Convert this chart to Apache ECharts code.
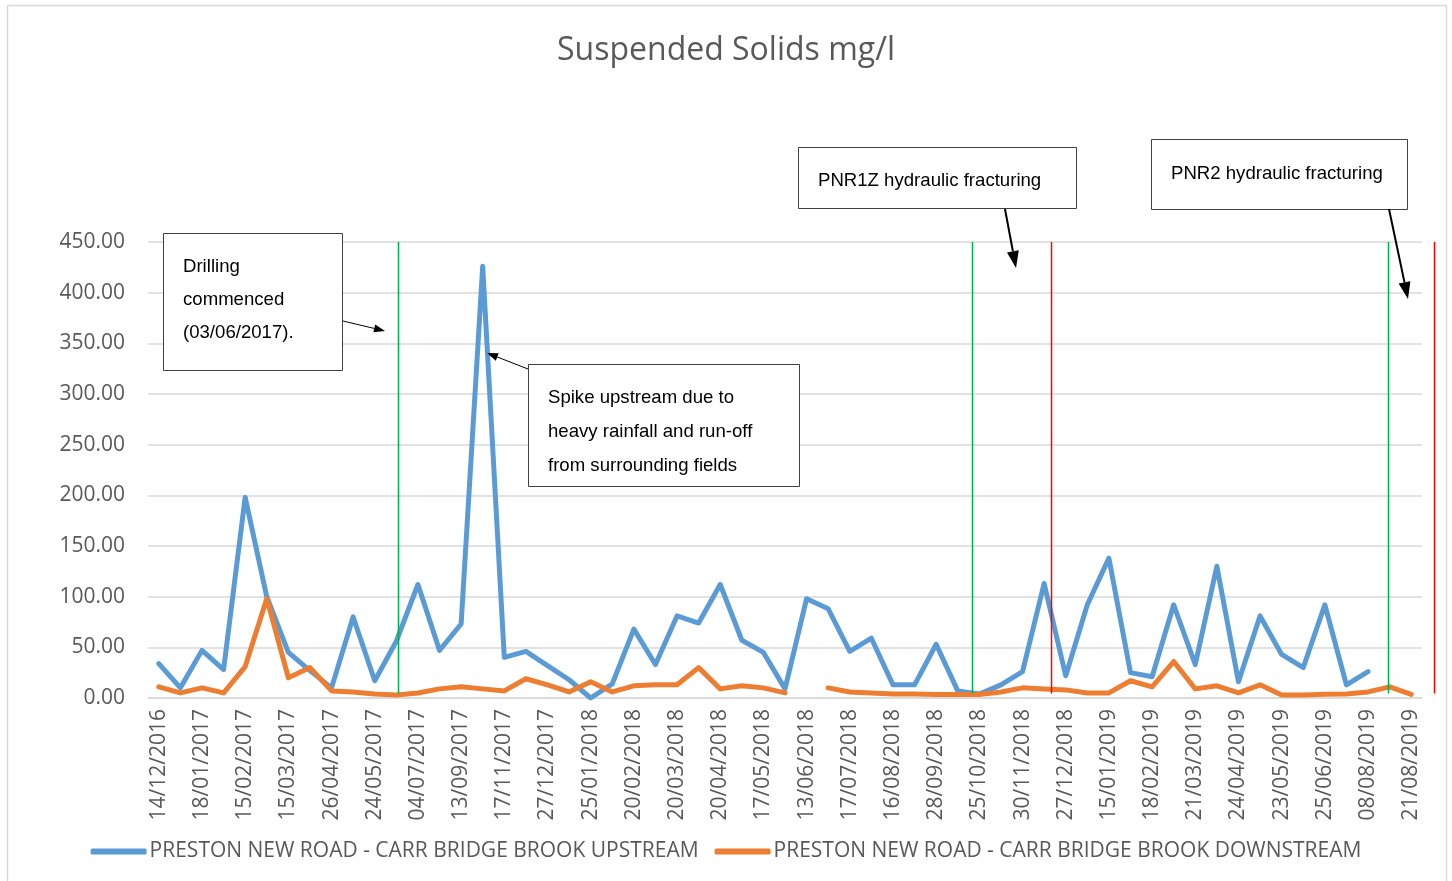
<!DOCTYPE html>
<html><head><meta charset="utf-8">
<script src="https://cdn.jsdelivr.net/npm/echarts@6/dist/echarts.min.js"></script>
<style>html,body{margin:0;padding:0;background:#fff}#c{width:1452px;height:881px}</style>
</head><body><div id="c"></div>
<script>
// Visible tick labels (every second category)
const tickLabels = ['14/12/2016','18/01/2017','15/02/2017','15/03/2017','26/04/2017','24/05/2017','04/07/2017','13/09/2017','17/11/2017','27/12/2017','25/01/2018','20/02/2018','20/03/2018','20/04/2018','17/05/2018','13/06/2018','17/07/2018','16/08/2018','28/09/2018','25/10/2018','30/11/2018','27/12/2018','15/01/2019','18/02/2019','21/03/2019','24/04/2019','23/05/2019','25/06/2019','08/08/2019','21/08/2019'];

const upstream = [34,10,47,28,198,100,45,27,10,80,17,56,112,47,73,426,40,46,32,18,0,14,68,33,81,74,112,57,45,9,98,88,46,59,13,13,53,7,4,13,26,113,22,92,138,25,21,92,33,130,16,81,43,30,92,13,26,null,null];

const downstream = [11,5,10,5,31,98,20,30,7,6,4,3,5,9,11,9,7,19,13,6,16,6,12,13,13,30,9,12,10,5,null,10,6,5,4,4,3.5,3.5,3.5,6,10,9,8,5,5,17,11,36,9,12,5,13,3,3,3.6,4,6,11,3.6];

const seriesNames = ['PRESTON NEW ROAD - CARR BRIDGE BROOK UPSTREAM','PRESTON NEW ROAD - CARR BRIDGE BROOK DOWNSTREAM'];

// Event markers, in category-index units
const eventPositions = [11.06, 37.66, 41.3, 56.94, 59.07];
const eventColors = ['#00b050','#00b050','#ff0000','#00b050','#ff0000'];

// Build categories: 59 slots, labels on even slots
const categories = [];
for (let i = 0; i < upstream.length; i++) categories.push(i % 2 === 0 ? tickLabels[i / 2] : '');

const FONT = "'Open Sans', sans-serif";
const chart = echarts.init(document.getElementById('c'), null, {renderer: 'canvas'});

const option = {
  backgroundColor: '#fff',
  animation: false,
  title: {
    text: 'Suspended Solids mg/l', left: 'center', top: 30,
    textStyle: {fontFamily: FONT, fontSize: 32, fontWeight: 'normal', color: '#595959'}
  },
  legend: {
    bottom: 14, left: 'center', icon: 'roundRect', itemWidth: 56, itemHeight: 6, itemGap: 16,
    textStyle: {fontFamily: FONT, fontSize: 21, color: '#595959', padding: [0, 0, 0, -2]},
    data: seriesNames
  },
  grid: {left: 148, right: 30, top: 242, bottom: 183},
  xAxis: [{
    type: 'category', data: categories, boundaryGap: true,
    axisLine: {lineStyle: {color: '#d9d9d9', width: 1.5}},
    axisTick: {interval: 0, length: 7, lineStyle: {color: '#d9d9d9', width: 1.5}},
    axisLabel: {interval: 0, rotate: 90, margin: 11, fontFamily: FONT, fontSize: 21, color: '#595959'},
    splitLine: {show: false}
  }, {
    type: 'value', min: -0.5, max: 58.5, show: false
  }],
  yAxis: {
    type: 'value', min: 0, max: 450, interval: 50,
    axisLine: {show: false}, axisTick: {show: false},
    axisLabel: {margin: 23, fontFamily: FONT, fontSize: 21, color: '#595959', formatter: v => v.toFixed(2)},
    splitLine: {lineStyle: {color: '#d9d9d9', width: 1.5}}
  },
  series: [{
    name: seriesNames[0], type: 'line', data: upstream, showSymbol: false, symbol: 'none',
    connectNulls: false, color: '#5b9bd5',
    lineStyle: {width: 5, color: '#5b9bd5', cap: 'round', join: 'round'}
  }, {
    name: seriesNames[1], type: 'line', data: downstream, showSymbol: false, symbol: 'none',
    connectNulls: false, color: '#ed7d31',
    lineStyle: {width: 5, color: '#ed7d31', cap: 'round', join: 'round'}
  }]
};
chart.setOption(option);

function arrow(x1, y1, x2, y2, w, hl, hw) {
  const dx = x2 - x1, dy = y2 - y1, L = Math.sqrt(dx*dx + dy*dy);
  const ux = dx / L, uy = dy / L, px = -uy, py = ux;
  const bx = x2 - ux * hl, by = y2 - uy * hl;
  return [
    {type: 'line', shape: {x1: x1, y1: y1, x2: bx, y2: by}, style: {stroke: '#000', lineWidth: w}, z: 100},
    {type: 'polygon', shape: {points: [[x2, y2], [bx + px*hw/2, by + py*hw/2], [bx - px*hw/2, by - py*hw/2]]}, style: {fill: '#000'}, z: 100}
  ];
}
function box(x, y, w, h, lines, tx, ty, lh) {
  const els = [{type: 'rect', shape: {x: x + 0.5, y: y + 0.5, width: w, height: h}, style: {fill: '#fff', stroke: '#404040', lineWidth: 1}, z: 90}];
  lines.forEach((t, i) => els.push({type: 'text', x: tx, y: ty + i * lh, style: {text: t, fill: '#000', font: "18.6px 'Liberation Sans', Arial, sans-serif", textVerticalAlign: 'middle'}, z: 95}));
  return els;
}

const g = [];
// outer chart border
g.push({type: 'rect', shape: {x: 7.5, y: 5.5, width: 1439, height: 900}, style: {fill: null, stroke: '#d9d9d9', lineWidth: 1.5}, z: 1});
// event lines
const yTop = chart.convertToPixel({yAxisIndex: 0}, 450);
const yBot = chart.convertToPixel({yAxisIndex: 0}, 4.5);
eventPositions.forEach((p, i) => {
  const x = Math.round(chart.convertToPixel({xAxisIndex: 1}, p)) + 0.5;
  g.push({type: 'line', shape: {x1: x, y1: yTop, x2: x, y2: yBot}, style: {stroke: eventColors[i], lineWidth: 1.5}, z: 50});
});
// annotations
g.push(...box(163, 233, 179, 137, ['Drilling', 'commenced', '(03/06/2017).'], 183, 267, 33));
g.push(...arrow(343, 321, 385, 331, 1, 11, 8));
g.push(...box(528, 364, 271, 122, ['Spike upstream due to', 'heavy rainfall and run-off', 'from surrounding fields'], 548, 398, 34));
g.push(...arrow(528, 369, 487, 353, 1, 11, 8));
g.push(...box(798, 147, 278, 61, ['PNR1Z hydraulic fracturing'], 818, 181, 0));
g.push(...arrow(1005, 209, 1016, 268, 2, 17, 12));
g.push(...box(1151, 139, 256, 70, ['PNR2 hydraulic fracturing'], 1171, 174, 0));
g.push(...arrow(1389, 209, 1408, 299, 2, 17, 12));
chart.setOption({graphic: {elements: g}});
</script>
</body></html>
